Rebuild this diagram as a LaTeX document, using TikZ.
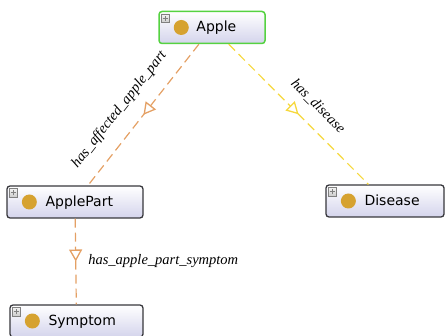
\documentclass[tikz,border=0pt]{standalone}
\usepackage{fontspec}
\setmainfont{Liberation Serif}
\newfontfamily\classfont{DejaVu Sans}
\usetikzlibrary{arrows.meta, positioning, decorations.markings}
\definecolor{lavender}{RGB}{212,212,236}
\definecolor{boxline}{RGB}{55,55,60}
\definecolor{applegreen}{RGB}{85,210,65}
\definecolor{bulb}{RGB}{214,162,48}
\definecolor{partorange}{RGB}{228,160,100}
\definecolor{diseaseyellow}{RGB}{246,216,60}
\tikzset{
	block/.style={draw=boxline, line width=1.3pt, rounded corners=3pt, top color=white, bottom color=lavender, minimum height=32pt},
	selected/.style={block, draw=applegreen, line width=1.5pt},
	classname/.style={anchor=base west, inner sep=0pt, font=\classfont\fontsize{14}{16}\selectfont},
	bulbdot/.style={circle, fill=bulb, minimum size=15pt, inner sep=0pt},
	expander/.style={draw=gray, line width=0.6pt, top color=gray!10, bottom color=gray!40, minimum size=8.5pt, inner sep=0pt,
		path picture={
			\draw[line width=1pt] ([xshift=-2.5pt]path picture bounding box.center) -- ([xshift=2.5pt]path picture bounding box.center);
			\draw[line width=1pt] ([yshift=-2.5pt]path picture bounding box.center) -- ([yshift=2.5pt]path picture bounding box.center);
		}},
	prop/.style={dash pattern=on 9pt off 5pt, line width=1.2pt, postaction={decorate},
		decoration={markings, mark=at position 0.5 with {\arrow{Triangle[fill=white, width=13pt, length=12pt, line width=1.3pt]}}}},
	proplabel/.style={font=\itshape\fontsize{14.5}{16}\selectfont, inner sep=0pt}
}

\begin{document}
\begin{tikzpicture}[x=1pt, y=-1pt]
		\useasboundingbox (0,0) rectangle (446,336);
		
		% classes
		\node[selected, minimum width=106pt] (apple) at (212,27.5) {};
		\node[block, minimum width=136pt] (applepart) at (75,202) {};
		\node[block, minimum width=118pt] (disease) at (385,201) {};
		\node[block, minimum width=133pt] (symptom) at (76.5,321) {};
		
		\node[expander] (appleplus) at ([xshift=7pt, yshift=-7.5pt]apple.north west) {};
		\node[expander] (applepartplus) at ([xshift=7pt, yshift=-7.5pt]applepart.north west) {};
		\node[expander] (diseaseplus) at ([xshift=7pt, yshift=-7.5pt]disease.north west) {};
		\node[expander] (symptomplus) at ([xshift=7pt, yshift=-7.5pt]symptom.north west) {};
		
		\node[bulbdot] (applebulb) at ([xshift=23pt]apple.west) {};
		\node[bulbdot] (applepartbulb) at ([xshift=23pt]applepart.west) {};
		\node[bulbdot] (diseasebulb) at ([xshift=23pt]disease.west) {};
		\node[bulbdot] (symptombulb) at ([xshift=23pt]symptom.west) {};
		
		\node[classname] (appletxt) at ([xshift=38pt, yshift=-4.5pt]apple.west) {Apple};
		\node[classname] (appleparttxt) at ([xshift=39pt, yshift=-4.5pt]applepart.west) {ApplePart};
		\node[classname] (diseasetxt) at ([xshift=39pt, yshift=-4.5pt]disease.west) {Disease};
		\node[classname] (symptomtxt) at ([xshift=39pt, yshift=-4.5pt]symptom.west) {Symptom};
		
		% object properties
		\draw[prop, partorange] (apple) -- (applepart)
			node[proplabel, black, sloped, above=15pt, pos=0.56] (affectedlbl) {has\_affected\_apple\_part};
		\draw[prop, diseaseyellow] (apple) -- (disease)
			node[proplabel, black, sloped, above=13pt, pos=0.54] (diseaselbl) {has\_disease};
		\draw[prop, partorange] (applepart) -- (symptom)
			node[proplabel, black, right=12pt, pos=0.5] (symptomlbl) {has\_apple\_part\_symptom};
	\end{tikzpicture}
\end{document}
